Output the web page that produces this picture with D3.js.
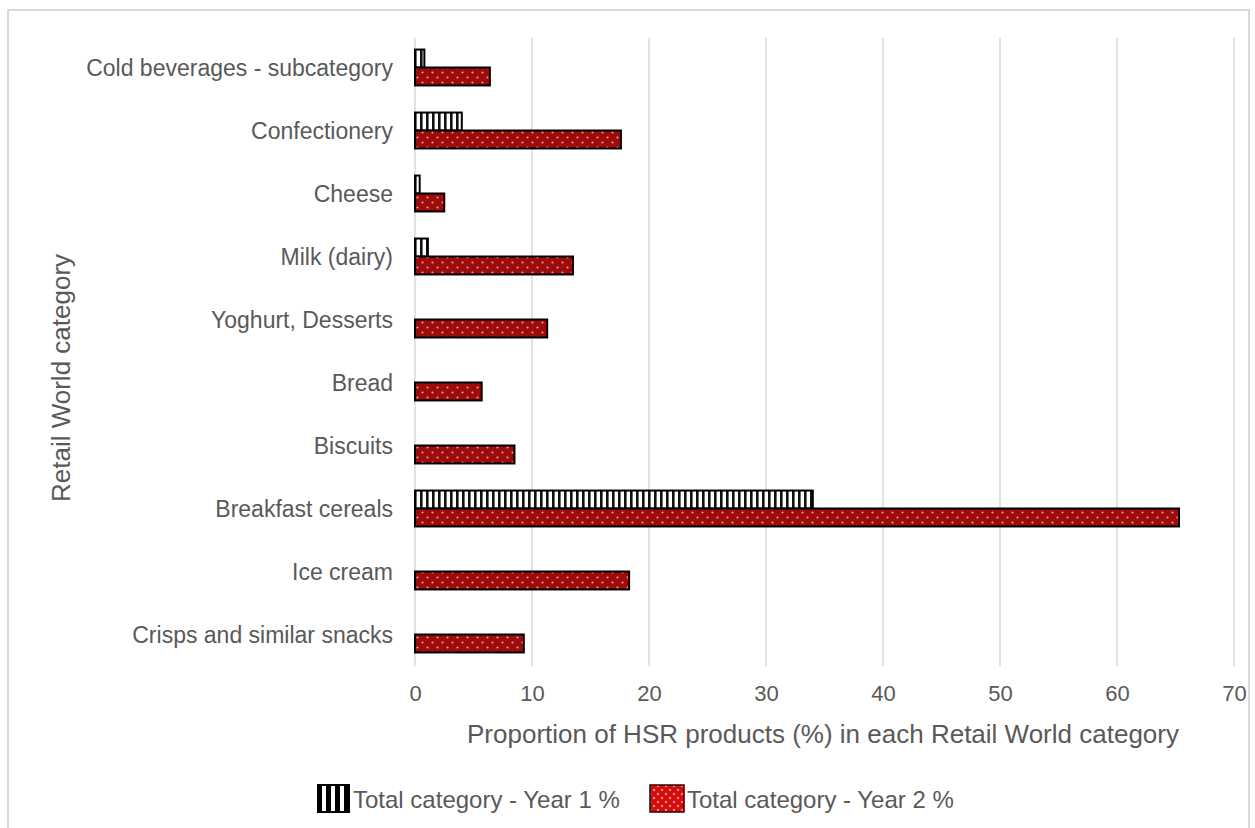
<!DOCTYPE html>
<html><head><meta charset="utf-8">
<script src="https://cdn.jsdelivr.net/npm/d3@7"></script>
<style>body{margin:0;background:#fff}svg{display:block;font-family:"Liberation Sans",Arial,sans-serif}</style>
</head><body>
<svg id="c" width="1255" height="828"></svg>
<script>
const categories = ["Cold beverages - subcategory","Confectionery","Cheese","Milk (dairy)","Yoghurt, Desserts","Bread","Biscuits","Breakfast cereals","Ice cream","Crisps and similar snacks"];
const year1 = [0.8, 4.0, 0.4, 1.1, 0, 0, 0, 34.0, 0, 0];
const year2 = [6.4, 17.6, 2.5, 13.5, 11.3, 5.7, 8.5, 65.3, 18.3, 9.3];
const seriesNames = ["Total category - Year 1 %","Total category - Year 2 %"];
const xTicks = [0,10,20,30,40,50,60,70];

const svg = d3.select("#c");
const defs = svg.append("defs");
const p1 = defs.append("pattern").attr("id","stripes").attr("patternUnits","userSpaceOnUse").attr("width",6).attr("height",6);
p1.append("rect").attr("width",6).attr("height",6).attr("fill","#fff");
p1.append("rect").attr("x",0).attr("width",2.6).attr("height",6).attr("fill","#111");
const p1b = defs.append("pattern").attr("id","stripesL").attr("patternUnits","userSpaceOnUse").attr("width",9).attr("height",9).attr("x",318);
p1b.append("rect").attr("width",9).attr("height",9).attr("fill","#000");
p1b.append("rect").attr("x",4).attr("width",4).attr("height",9).attr("fill","#fff");
const p2 = defs.append("pattern").attr("id","dots").attr("patternUnits","userSpaceOnUse").attr("width",10).attr("height",10);
p2.append("rect").attr("width",10).attr("height",10).attr("fill","#9e0b0b");
p2.append("circle").attr("cx",2.5).attr("cy",2.5).attr("r",1.1).attr("fill","#e89a9a");
p2.append("circle").attr("cx",7.5).attr("cy",7.5).attr("r",1.1).attr("fill","#e89a9a");
const p2b = defs.append("pattern").attr("id","dotsL").attr("patternUnits","userSpaceOnUse").attr("width",8).attr("height",8);
p2b.append("rect").attr("width",8).attr("height",8).attr("fill","#d40d0d");
p2b.append("circle").attr("cx",2).attr("cy",2).attr("r",1.3).attr("fill","#f08080");
p2b.append("circle").attr("cx",6).attr("cy",6).attr("r",1.3).attr("fill","#f08080");

// frame
svg.append("rect").attr("x",8).attr("y",10).attr("width",1241).attr("height",830).attr("fill","none").attr("stroke","#d9d9d9").attr("stroke-width",2);

const x = d3.scaleLinear().domain([0,70]).range([415,1234]);
const y = d3.scaleBand().domain(categories).range([36,666]).paddingInner(0.43).paddingOuter(0.215);
const sub = d3.scaleBand().domain([0,1]).range([0,y.bandwidth()]);

svg.append("g").selectAll("line").data(xTicks).join("line")
  .attr("x1",d=>x(d)).attr("x2",d=>x(d)).attr("y1",38).attr("y2",666)
  .attr("stroke","#d9d9d9").attr("stroke-width",1.5);

const xa = svg.append("g").attr("transform","translate(0,666)")
  .call(d3.axisBottom(x).tickValues(xTicks).tickSize(0).tickPadding(19));
xa.select(".domain").remove();
xa.selectAll("text").attr("font-size",22).attr("fill","#595959").attr("font-family","Liberation Sans, Arial, sans-serif");

const ya = svg.append("g").attr("transform","translate(415,0)")
  .call(d3.axisLeft(y).tickSize(0).tickPadding(22));
ya.select(".domain").remove();
ya.selectAll("text").attr("font-size",23).attr("fill","#595959").attr("font-family","Liberation Sans, Arial, sans-serif").attr("dy","0.38em");

const g = svg.append("g");
g.selectAll("rect.y1").data(categories.map((c,i)=>({c,v:year1[i]})).filter(d=>d.v>0)).join("rect")
  .attr("x",x(0)).attr("y",d=>y(d.c)+sub(0)).attr("width",d=>x(d.v)-x(0)).attr("height",sub.bandwidth())
  .attr("fill","url(#stripes)").attr("stroke","#000").attr("stroke-width",2);
g.selectAll("rect.y2").data(categories.map((c,i)=>({c,v:year2[i]}))).join("rect")
  .attr("x",x(0)).attr("y",d=>y(d.c)+sub(1)).attr("width",d=>x(d.v)-x(0)).attr("height",sub.bandwidth())
  .attr("fill","url(#dots)").attr("stroke","#000").attr("stroke-width",2);

svg.append("text").attr("x",823).attr("y",743).attr("text-anchor","middle").attr("font-size",26).attr("fill","#595959").text("Proportion of HSR products (%) in each Retail World category");
svg.append("text").attr("transform","translate(70,378) rotate(-90)").attr("text-anchor","middle").attr("font-size",26).attr("fill","#595959").text("Retail World category");

const lg = svg.append("g");
lg.append("rect").attr("x",318).attr("y",785).attr("width",31).attr("height",27).attr("fill","url(#stripesL)").attr("stroke","#000").attr("stroke-width",2);
lg.append("text").attr("x",353).attr("y",808).attr("font-size",24).attr("fill","#595959").text(seriesNames[0]);
lg.append("rect").attr("x",650).attr("y",785).attr("width",34).attr("height",27).attr("fill","url(#dotsL)").attr("stroke","#300").attr("stroke-width",1.5);
lg.append("text").attr("x",687).attr("y",808).attr("font-size",24).attr("fill","#595959").text(seriesNames[1]);
</script>
</body></html>
